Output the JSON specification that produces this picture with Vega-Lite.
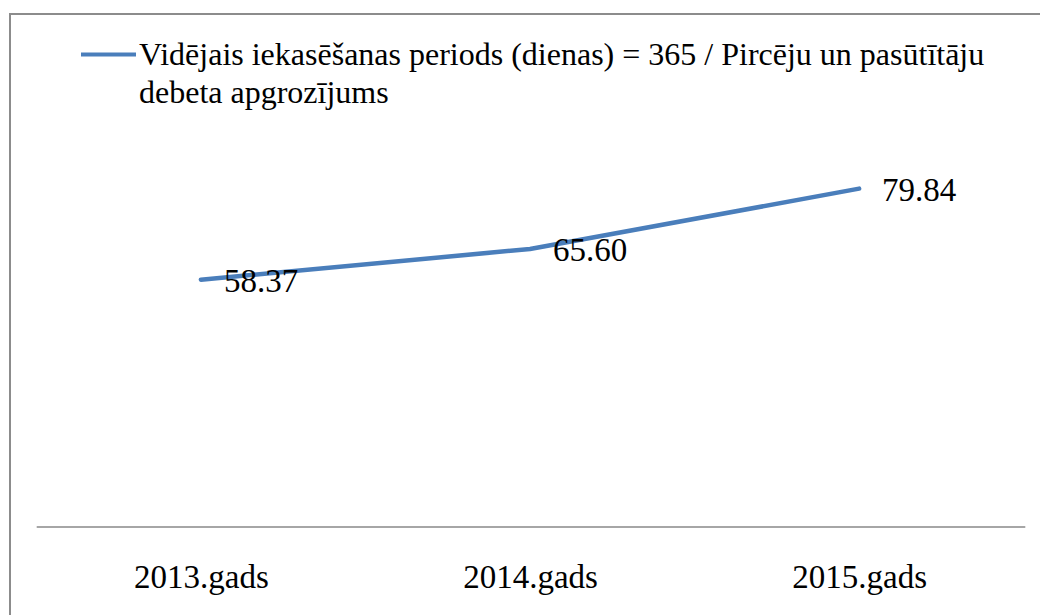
{
  "$schema": "https://vega.github.io/schema/vega-lite/v6.json",
  "autosize": "none",
  "width": 1040,
  "height": 611,
  "padding": {"left": 10, "top": 14, "right": -10, "bottom": -10},
  "background": "white",
  "config": {
    "view": {"stroke": "#8c8c8c", "strokeWidth": 2},
    "font": "'Liberation Serif', 'Times New Roman', serif",
    "style": {"guide-label": {"lineHeight": 38}}
  },
  "data": {
    "values": [
      {"year": "2013.gads", "value": 58.37, "series": "Vidējais iekasēšanas periods (dienas) = 365 / Pircēju un pasūtītāju debeta apgrozījums"},
      {"year": "2014.gads", "value": 65.60, "series": "Vidējais iekasēšanas periods (dienas) = 365 / Pircēju un pasūtītāju debeta apgrozījums"},
      {"year": "2015.gads", "value": 79.84, "series": "Vidējais iekasēšanas periods (dienas) = 365 / Pircēju un pasūtītāju debeta apgrozījums"}
    ]
  },
  "encoding": {
    "x": {
      "field": "year",
      "type": "nominal",
      "sort": null,
      "scale": {"type": "point", "padding": 0.58, "domain": ["2013.gads", "2014.gads", "2015.gads"]},
      "axis": {
        "orient": "bottom",
        "offset": -98,
        "domain": false,
        "ticks": false,
        "tickSize": 0,
        "grid": false,
        "labelAngle": 0,
        "labelFont": "'Liberation Serif', 'Times New Roman', serif",
        "labelFontSize": 33,
        "labelColor": "#000000",
        "labelPadding": 34,
        "title": null
      }
    },
    "y": {
      "field": "value",
      "type": "quantitative",
      "scale": {"domain": [-23.12, 121.05], "nice": false, "zero": false},
      "axis": null
    }
  },
  "layer": [
    {
      "mark": {"type": "rule", "color": "#a6a6a6", "strokeWidth": 2, "xOffset": -164, "x2Offset": 166},
      "encoding": {
        "x": {"datum": "2013.gads"},
        "x2": {"datum": "2015.gads"},
        "y": {"datum": 0}
      }
    },
    {
      "mark": {"type": "line", "strokeWidth": 4.5, "interpolate": "linear", "strokeCap": "round", "strokeJoin": "round"},
      "encoding": {
        "color": {
          "field": "series",
          "type": "nominal",
          "scale": {"range": ["#4a7ebb"]},
          "legend": {
            "orient": "none",
            "legendX": 69,
            "legendY": 11,
            "title": null,
            "padding": 0,
            "symbolType": "stroke",
            "symbolSize": 3025,
            "symbolStrokeWidth": 4,
            "labelFont": "'Liberation Serif', 'Times New Roman', serif",
            "labelFontSize": 32,
            "labelColor": "#000000",
            "labelLimit": 1000,
            "labelOffset": 1,
            "labelExpr": "[substring(datum.label, 0, indexof(datum.label, ' debeta')), substring(datum.label, indexof(datum.label, ' debeta') + 1)]"
          }
        }
      }
    },
    {
      "mark": {"type": "text", "align": "left", "baseline": "middle", "dx": 23, "dy": 2, "fontSize": 33, "font": "'Liberation Serif', 'Times New Roman', serif", "color": "#000000"},
      "encoding": {
        "text": {"field": "value", "type": "quantitative", "format": ".2f"}
      }
    }
  ]
}
